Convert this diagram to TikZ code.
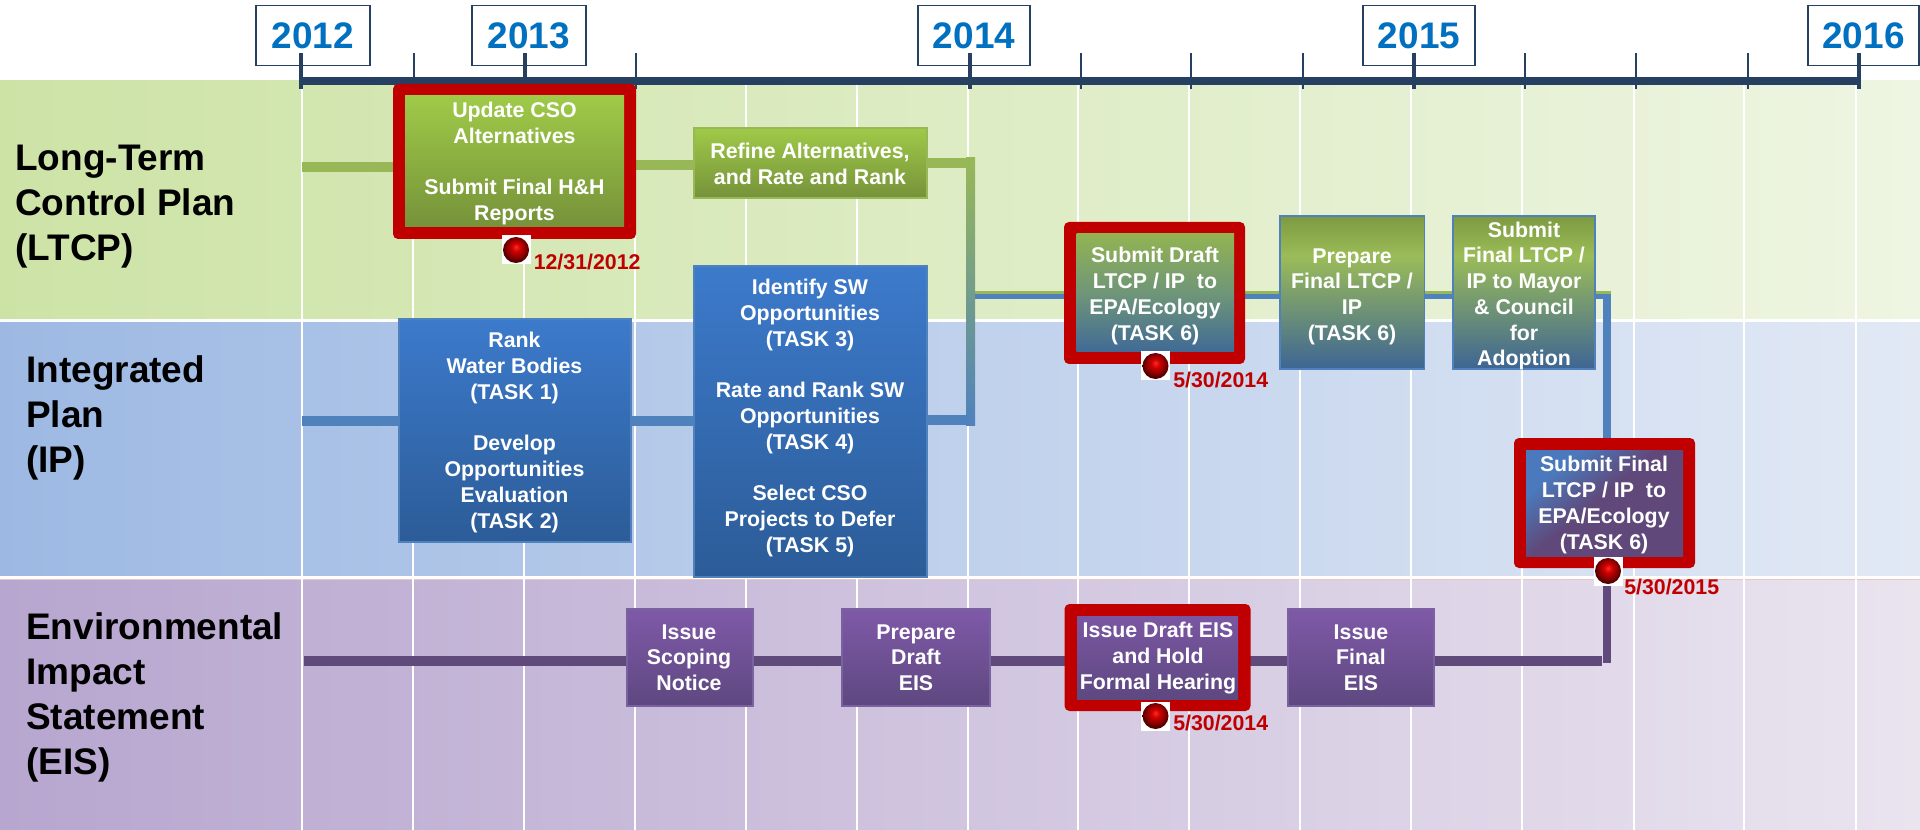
\documentclass[tikz,border=0pt]{standalone}
\usepackage{fontspec}
\setmainfont{Liberation Sans}
\usetikzlibrary{calc}
\definecolor{axisc}{HTML}{264061}
\definecolor{redc}{HTML}{C00000}
\definecolor{yearc}{HTML}{0070C0}
\definecolor{gline}{HTML}{98B858}
\definecolor{bline}{HTML}{4F81BD}
\definecolor{pline}{HTML}{604A7B}
\definecolor{ga}{HTML}{7D9A41}
\definecolor{gb}{HTML}{9BBC58}
\definecolor{gc}{HTML}{3D6594}
\definecolor{da}{HTML}{92B352}
\definecolor{db}{HTML}{6F9678}
\definecolor{dc}{HTML}{406A96}
\definecolor{ea}{HTML}{4A7ABD}
\definecolor{eb}{HTML}{60497A}
\definecolor{ba}{HTML}{FF2A2A}
\definecolor{bb}{HTML}{D00000}
\definecolor{bc}{HTML}{8A0000}
\definecolor{bd}{HTML}{500000}
\definecolor{gtop}{HTML}{9FCA48}
\definecolor{gbot}{HTML}{76923A}
\definecolor{btop}{HTML}{3C7ACB}
\definecolor{bbot}{HTML}{2C5C98}
\definecolor{ptop}{HTML}{7F59A8}
\definecolor{pbot}{HTML}{5E4880}
\definecolor{pborder}{HTML}{7A62A0}
\definecolor{bandga}{HTML}{CDE3A6}
\definecolor{bandgb}{HTML}{EEF5E2}
\definecolor{bandba}{HTML}{9DB9E3}
\definecolor{bandbb}{HTML}{E2E9F5}
\definecolor{bandpa}{HTML}{B7A6CF}
\definecolor{bandpb}{HTML}{EAE4EF}
\definecolor{pinkl}{HTML}{F0C4BE}
\pgfdeclareverticalshading{gradA}{100bp}{color(0bp)=(gc); color(25bp)=(gc); color(62bp)=(gb); color(75bp)=(ga); color(100bp)=(ga)}
\pgfdeclareverticalshading{gradB}{100bp}{color(0bp)=(dc); color(25bp)=(dc); color(50bp)=(db); color(75bp)=(da); color(100bp)=(da)}
\pgfdeclarehorizontalshading{gradD}{100bp}{color(0bp)=(ea); color(28bp)=(ea); color(47bp)=(eb); color(100bp)=(eb)}
\pgfdeclareradialshading{redball}{\pgfpoint{0bp}{6bp}}{color(0bp)=(ba); color(8bp)=(bb); color(18bp)=(bc); color(25bp)=(bd); color(50bp)=(bd)}
\pgfdeclarelayer{bglayer}
\pgfdeclarelayer{connlayer}
\pgfsetlayers{bglayer,connlayer,main}
\tikzset{
  gridl/.style={draw=white,line width=1.5pt},
  gconn/.style={draw=gline,line width=7.5pt},
  bconn/.style={draw=bline,line width=7.5pt},
  pconn/.style={draw=pline,line width=7.5pt},
  axisline/.style={draw=axisc,line width=6pt},
  majortick/.style={draw=axisc,line width=3.7pt},
  minortick/.style={draw=axisc,line width=1.3pt},
  yearbox/.style={draw=axisc,line width=1.2pt,fill=white,inner sep=0pt,outer sep=0pt,text=yearc,font=\bfseries\fontsize{27.7}{33}\selectfont},
  base/.style={inner sep=0pt,outer sep=0pt,line width=1.1pt},
  greenbox/.style={base,draw=gline,shade,top color=gtop,bottom color=gbot},
  bluebox/.style={base,draw=bline,shade,top color=btop,bottom color=bbot},
  purplebox/.style={base,draw=pborder,shade,top color=ptop,bottom color=pbot},
  mixbox/.style={base,draw=bline,shading=gradA},
  frame/.style={inner sep=0pt,outer sep=0pt,fill=redc,rounded corners=3.75pt},
  boxtext/.style={text=white,align=center,inner sep=0pt,font=\bfseries\fontsize{16}{19.3}\selectfont},
  bandtext/.style={text=black,align=left,anchor=west,inner sep=0pt,font=\bfseries\fontsize{27.75}{33.75}\selectfont},
  datetext/.style={text=redc,anchor=west,inner sep=0pt,font=\bfseries\fontsize{16}{19}\selectfont},
  ballback/.style={fill=white,inner sep=0pt,outer sep=0pt},
  ball/.style={circle,inner sep=0pt,outer sep=0pt,minimum size=19.5pt,shading=redball}
}
% name, style, x0, y0, x1, y1
\newcommand{\bx}[6]{\node[#2,minimum width={((#5)-(#3))*0.75pt},minimum height={((#6)-(#4))*0.75pt}] (#1) at ({((#3)+(#5))/2},{((#4)+(#6))/2}) {};}
% name, x, y, text
\newcommand{\tx}[4]{\node[boxtext] (#1) at (#2,#3) {#4};}
% name, cx, cy
\newcommand{\balln}[3]{\bx{#1back}{ballback}{#2-14.5}{#3-14.5}{#2+14.5}{#3+14.5}\node[ball] (#1) at (#2,#3) {};}
% name, x0, x1, text
\newcommand{\yr}[4]{\node[yearbox,minimum width={(#3-#2)*0.75pt},minimum height=45pt] (#1) at ({(#2+#3)/2},35.5) {\raisebox{-.75pt}{#4}};}
\begin{document}
\begin{tikzpicture}[x=0.75pt,y=-0.75pt]
\useasboundingbox (0,0) rectangle (1920,830);
\begin{pgfonlayer}{bglayer}
\fill[left color=bandga,right color=bandgb] (0,81) rectangle (1920,318.5);
\fill[left color=bandba,right color=bandbb] (0,323) rectangle (1920,575.5);
\fill[left color=bandpa,right color=bandpb] (0,580) rectangle (1920,830);
\draw[pinkl,line width=0.9pt] (0,579.5) -- (1920,579.5);
\foreach \gx in {302,412.5,524,634.5,746,856.5,968,1078,1189,1300,1411,1522,1634,1744,1856}
  \draw[gridl] (\gx,81) -- (\gx,830);
\end{pgfonlayer}
% frames and boxes
\bx{updf}{frame}{393}{84}{636}{239}
\bx{dftf}{frame}{1064}{222}{1245}{364}
\bx{finf}{frame}{1514}{438}{1695}{568}
\bx{eisf}{frame}{1064.5}{604}{1250.5}{711}
\bx{upd}{base,shade,top color=gtop,bottom color=gbot}{405}{96}{624}{227}
\bx{refine}{greenbox}{694}{128}{927}{198}
\bx{rank}{bluebox}{399}{319}{631}{542}
\bx{ident}{bluebox}{694}{266}{927}{577}
\bx{dft}{base,shading=gradB}{1076.5}{234}{1234}{352}
\bx{prep}{mixbox}{1280}{216}{1424.5}{369}
\bx{sub}{mixbox}{1453}{216}{1595}{369}
\bx{fin}{base,shading=gradD,shading angle=-50}{1526}{450}{1683}{556}
\bx{scop}{purplebox}{627}{609}{753}{706}
\bx{pdr}{purplebox}{842}{609}{990}{706}
\bx{eis}{base,shade,top color=ptop!85!pbot,bottom color=pbot}{1077}{616}{1238}{699}
\bx{ifin}{purplebox}{1288}{609}{1434}{706}
% box texts
\tx{updt}{514.5}{163.5}{Update CSO\\Alternatives\\[19.3pt]Submit Final H\&H\\Reports}
\tx{refinet}{810}{164}{Refine Alternatives,\\and Rate and Rank}
\tx{rankt}{514.5}{432.5}{Rank\\Water Bodies\\(TASK 1)\\[19.3pt]Develop\\Opportunities\\Evaluation\\(TASK 2)}
\tx{identt}{810}{418}{Identify SW\\Opportunities\\(TASK 3)\\[19.3pt]Rate and Rank SW\\Opportunities\\(TASK 4)\\[19.3pt]Select CSO\\Projects to Defer\\(TASK 5)}
\tx{dftt}{1155}{296}{Submit Draft\\LTCP / IP\ \ to\\EPA/Ecology\\(TASK 6)}
\tx{prept}{1352}{296.5}{Prepare\\Final LTCP /\\IP\\(TASK 6)}
\tx{subt}{1524}{296}{Submit\\Final LTCP /\\IP to Mayor\\\& Council\\for\\Adoption}
\tx{fint}{1604}{505}{Submit Final\\LTCP / IP\ \ to\\EPA/Ecology\\(TASK 6)}
\tx{scopt}{689}{657.5}{Issue\\Scoping\\Notice}
\tx{pdrt}{916}{657.5}{Prepare\\Draft\\EIS}
\tx{eist}{1158}{658}{Issue Draft EIS\\and Hold\\Formal Hearing}
\tx{ifint}{1361}{657.5}{Issue\\Final\\EIS}
% band labels
\node[bandtext] (ltcp) at (15,207) {Long-Term\\Control Plan\\(LTCP)};
\node[bandtext] (ip) at (26,418) {Integrated\\Plan\\(IP)};
\node[bandtext] (eisl) at (26,697) {Environmental\\Impact\\Statement\\(EIS)};
% balls and dates
\balln{ball1}{516}{250}
\balln{ball2}{1155.5}{366}
\balln{ball3}{1155.5}{716}
\balln{ball4}{1608}{571}
\node[datetext] (d1) at (533.5,262) {12/31/2012};
\node[datetext] (d2) at (1173,380) {5/30/2014};
\node[datetext] (d3) at (1173,723) {5/30/2014};
\node[datetext] (d4) at (1624,587) {5/30/2015};
% connectors, axis and year boxes, behind the boxes
\coordinate (gs) at (302,167.5);
\coordinate (gm) at (660,165);
\coordinate (gc1) at (970.5,163);
\coordinate (gc2) at (970.5,420);
\coordinate (bs) at (302,421);
\coordinate (ps) at (304,661);
\coordinate (ls) at (975,296.5);
\coordinate (lg) at (975,292.5);
\coordinate (lc) at (1607,296.5);
\coordinate (lge) at (1611,292.5);
\coordinate (pb) at (1607,663);
\coordinate (pe) at (1602,661);
\begin{pgfonlayer}{connlayer}
\draw[gconn] (gs) -- (gs -| updf.west);
\draw[gconn] (gm -| updf.east) -- (gm -| refine.west);
\draw[gconn] (gc1 -| refine.east) -- (gc1);
\fill[top color=gline,bottom color=bline] ($(gc1)+(-4.5,-5)$) rectangle ($(gc2)+(4.5,5)$);
\draw[bconn] (bs) -- (bs -| rank.west);
\draw[bconn] (bs -| rank.east) -- (bs -| ident.west);
\draw[bconn] (gc2 -| ident.east) -- (gc2);
\draw[draw=gline,line width=2.4pt] (lg) -- (lge);
\draw[draw=bline,line width=3.9pt] (ls) -- (lc);
\draw[draw=bline,line width=6pt] ($(lc)+(0,-2.5)$) -- (lc |- finf.north);
\draw[draw=pline,line width=6pt] (lc |- finf.south) -- (pb);
\draw[pconn] (ps) -- (pe);
\yr{y2012}{256}{370}{2012}
\yr{y2013}{472}{586}{2013}
\yr{y2014}{918}{1030}{2014}
\yr{y2015}{1363}{1475}{2015}
\yr{y2016}{1808}{1919}{2016}
\draw[axisline] (300,81) -- (1859,81);
\foreach \mx in {301,525,970,1414,1859}
  \draw[majortick] (\mx,53) -- (\mx,89);
\foreach \mx in {414,636,1081,1191,1303,1525,1636,1748}
  \draw[minortick] (\mx,53) -- (\mx,89);
\end{pgfonlayer}
\end{tikzpicture}
\end{document}
